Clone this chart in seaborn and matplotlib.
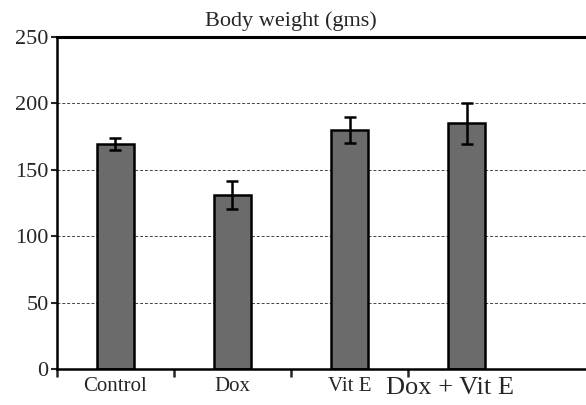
import seaborn as sns
import matplotlib.pyplot as plt
import pandas as pd

# data
groups = ["Control", "Dox", "Vit E", "Dox + Vit E"]
weight = [169, 131, 180, 185]
sem = [4.5, 10.5, 10, 15.5]

df = pd.DataFrame({"group": groups, "weight": weight})

sns.set_style("white")
plt.rcParams['font.family'] = ['Liberation Serif', 'DejaVu Serif']

fig = plt.figure(figsize=(5.86, 4.05), dpi=100)
ax = fig.add_axes([0.097, 0.089, 0.903, 0.82])

sns.barplot(x="group", y="weight", data=df, color="#6b6b6b", saturation=1,
            edgecolor="black", linewidth=1.8, width=0.32, errorbar=None, ax=ax)
ax.errorbar(range(len(groups)), weight, yerr=sem, fmt="none", ecolor="black",
            elinewidth=1.8, capsize=4, capthick=1.8)

ax.set_ylim(0, 250)
ax.set_xlim(-0.5, 4.02)
ax.set_yticks([0, 50, 100, 150, 200, 250])
ax.tick_params(axis="y", labelsize=16, length=4, width=1.5, direction="out", left=True, pad=2)

# category ticks sit between the bars, labels under the bars
ax.set_xticks([-0.5, 0.5, 1.5, 2.5])
ax.set_xticklabels([])
ax.tick_params(axis="x", length=6, width=1.8, direction="out", bottom=True)
ax.set_xticks(range(len(groups)), minor=True)
ax.set_xticklabels(groups[:3] + [""], minor=True, fontsize=15)
ax.tick_params(axis="x", which="minor", length=0, pad=6)
ax.text(3 - 0.14, -6, groups[3], ha="center", va="top", fontsize=19, clip_on=False)

ax.set_xlabel("")
ax.set_ylabel("")
ax.yaxis.grid(True, linestyle=(0, (3, 2)), color="#444444", linewidth=0.7)
ax.set_axisbelow(True)
ax.get_ygridlines()[0].set_visible(False)
ax.get_ygridlines()[-1].set_visible(False)

for s in ["left", "bottom"]:
    ax.spines[s].set_linewidth(1.8)
    ax.spines[s].set_color("black")
ax.spines["top"].set_linewidth(2.2)
ax.spines["top"].set_color("black")
ax.spines["right"].set_visible(False)

# title centred over the four groups
ax.text(1.5, 262, "Body weight (gms)", ha="center", va="center", fontsize=16, clip_on=False)

fig.savefig("out.png", dpi=100)
